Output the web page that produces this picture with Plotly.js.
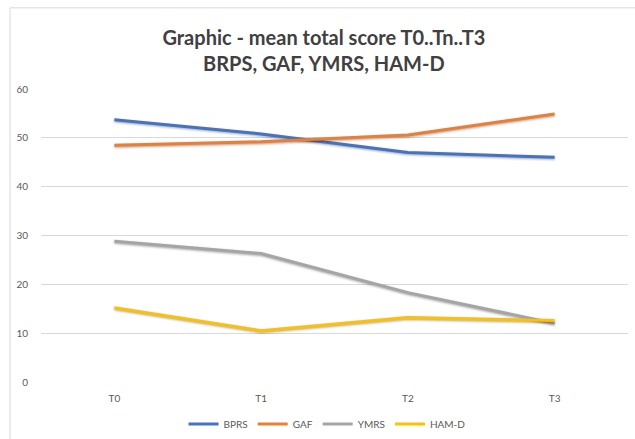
<!DOCTYPE html>
<html>
<head>
<meta charset="utf-8">
<script src="https://cdn.plot.ly/plotly-3.0.1.min.js"></script>
<style>
  html, body { margin: 0; padding: 0; background: #ffffff; }
  #chart { width: 635px; height: 439px; }
  #chart .scatterlayer .js-line { filter: drop-shadow(0.5px 1.5px 1px rgba(0,0,0,0.35)); }
</style>
</head>
<body>
<div id="chart"></div>
<script>
var categories = ["T0", "T1", "T2", "T3"];
var seriesNames = ["BPRS", "GAF", "YMRS", "HAM-D"];
var bprs = [53.7, 50.8, 47.0, 46.0];
var gaf = [48.5, 49.2, 50.6, 54.9];
var ymrs = [28.8, 26.3, 18.3, 12.0];
var hamd = [15.2, 10.5, 13.2, 12.6];
var yTicks = [0, 10, 20, 30, 40, 50, 60];
var seriesColors = ["#4472C4", "#ED7D31", "#A5A5A5", "#FFC000"];
var seriesValues = [bprs, gaf, ymrs, hamd];

var traces = seriesValues.map(function (vals, i) {
  return {
    type: "scatter",
    mode: "lines",
    x: categories,
    y: vals,
    name: seriesNames[i],
    line: { color: seriesColors[i], width: 3 },
    hoverinfo: "x+y+name"
  };
});

var tickFont = { family: "Lato, 'Open Sans', sans-serif", size: 10, color: "#595959" };

var layout = {
  width: 635,
  height: 439,
  paper_bgcolor: "#ffffff",
  plot_bgcolor: "#ffffff",
  margin: { l: 41, r: 7, t: 89, b: 57 },
  title: {
    text: "Graphic - mean total score T0..Tn..T3<br>BRPS, GAF, YMRS, HAM-D",
    font: { family: "Lato, 'Open Sans', sans-serif", size: 20, color: "#404040", weight: "bold" },
    x: 0.51, xref: "container", xanchor: "center",
    y: 1 - 45 / 439, yref: "container", yanchor: "middle"
  },
  xaxis: {
    type: "category",
    range: [-0.5, 3.5],
    showgrid: false,
    zeroline: false,
    showline: false,
    ticks: "",
    tickfont: tickFont,
    ticklabelstandoff: 9,
    fixedrange: true
  },
  yaxis: {
    range: [0, 60],
    tickvals: yTicks,
    showgrid: true,
    gridcolor: "#D9D9D9",
    gridwidth: 1,
    zeroline: false,
    showline: false,
    ticks: "",
    tickfont: tickFont,
    ticklabelstandoff: 12,
    fixedrange: true
  },
  legend: {
    orientation: "h",
    x: 0.515, xanchor: "center", xref: "container",
    y: 1 - 424 / 439, yanchor: "middle", yref: "container",
    font: tickFont,
    bgcolor: "rgba(0,0,0,0)",
    itemclick: false
  },
  shapes: [{
    type: "rect",
    xref: "paper", yref: "paper",
    x0: -0.0528, x1: 1.06, y0: -0.3, y1: 1.277,
    line: { color: "#D9D9D9", width: 1 },
    fillcolor: "rgba(0,0,0,0)",
    layer: "below"
  }],
  showlegend: true
};

Plotly.newPlot("chart", traces, layout, { displayModeBar: false, staticPlot: true });
</script>
</body>
</html>
